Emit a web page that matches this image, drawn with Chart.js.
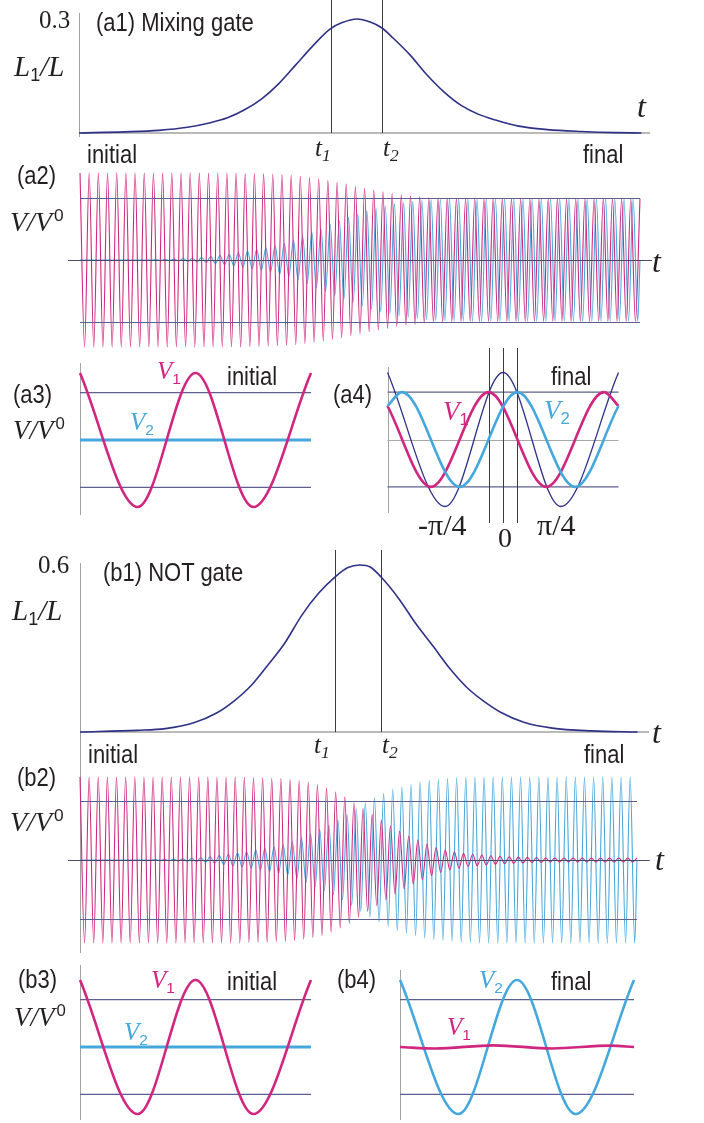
<!DOCTYPE html>
<html>
<head>
<meta charset="utf-8">
<title>Mixing gate and NOT gate</title>
<script src="https://cdn.jsdelivr.net/npm/chart.js@4.4.1/dist/chart.umd.min.js"></script>
<style>
  body { margin: 0; background: #fff; }
  #page { position: relative; width: 704px; height: 1123px; overflow: hidden; }
  #page canvas { position: absolute; }
  .lbl { position: absolute; white-space: nowrap; line-height: 1; color: #231f20; }
  .s { font-family: "Liberation Sans", Arial, sans-serif; transform: scaleX(.88); transform-origin: 0 0; }
  .m { font-family: "Liberation Serif", "Times New Roman", serif; font-style: italic; }
  .r { font-family: "Liberation Serif", "Times New Roman", serif; }
  .sb { font-family: "Liberation Sans", Arial, sans-serif; font-style: normal; font-size: .62em; position: relative; top: .3em; }
  .sbi { font-size: .7em; position: relative; top: .28em; }
  .sp { font-family: "Liberation Sans", Arial, sans-serif; font-style: normal; font-size: .62em; position: relative; top: -.62em; margin-left: 2px; }
</style>
</head>
<body>
<div id="page"></div>
<script>
// (a1) mixing gate pulse, L1/L against t (t axis runs 0..100)
const a1T = [0, 8, 14, 19, 23, 26, 29, 32, 35, 38, 41, 44, 46, 48.7, 51, 53, 55, 58, 61, 64, 67, 70, 73, 77, 82, 88, 94, 98.5];
const a1L = [0, 0.003, 0.007, 0.015, 0.027, 0.04, 0.061, 0.09, 0.13, 0.18, 0.23, 0.274, 0.29, 0.3, 0.292, 0.277, 0.25, 0.205, 0.152, 0.107, 0.072, 0.049, 0.034, 0.018, 0.009, 0.004, 0.001, 0];
const a1Times = [44.1, 53.1]; // t1, t2

// (b1) NOT gate pulse
const b1T = [0, 10, 15, 20, 24, 27, 30, 33, 36, 39, 42, 45, 47, 49.2, 51, 53, 56, 59, 62, 65, 68, 71, 74, 78, 83, 90, 98];
const b1L = [0, 0.006, 0.012, 0.033, 0.068, 0.11, 0.165, 0.24, 0.32, 0.42, 0.5, 0.56, 0.59, 0.6, 0.593, 0.555, 0.48, 0.39, 0.31, 0.228, 0.16, 0.11, 0.07, 0.035, 0.014, 0.004, 0];
const b1Times = [44.8, 52.9];

// (a2) amplitude of each of the 61 voltage cycles
const a2V1Amp = [1, 1, 1, 1, 1, 1, 1, 1, 1, 1, 1, 1, 1, 1, 1, 1, 1, 1,
  0.995, 0.993, 0.99, 0.986, 0.982, 0.973, 0.963, 0.947, 0.933, 0.912, 0.893, 0.872,
  0.848, 0.825, 0.804, 0.785, 0.764, 0.75, 0.738, 0.726, 0.719, 0.714, 0.711, 0.709,
  0.707, 0.707, 0.707, 0.707, 0.707, 0.707, 0.707, 0.707, 0.707, 0.707,
  0.707, 0.707, 0.707, 0.707, 0.707, 0.707, 0.707, 0.707, 0.707];
const a2V2Amp = [0, 0, 0, 0, 0, 0, 0, 0,
  0.005, 0.007, 0.01, 0.014, 0.02, 0.028, 0.04, 0.052, 0.066, 0.083, 0.1, 0.12,
  0.14, 0.165, 0.19, 0.23, 0.27, 0.32, 0.36, 0.41, 0.45, 0.49, 0.53, 0.565,
  0.595, 0.62, 0.645, 0.66, 0.675, 0.688, 0.695, 0.7, 0.703, 0.705,
  0.707, 0.707, 0.707, 0.707, 0.707, 0.707, 0.707, 0.707, 0.707, 0.707,
  0.707, 0.707, 0.707, 0.707, 0.707, 0.707, 0.707, 0.707, 0.707];

// (b2) amplitude of each cycle
const b2V1Amp = [1, 1, 1, 1, 1, 1, 1, 1, 1, 1, 1, 1, 1, 1, 1, 1, 1, 1,
  0.995, 0.99, 0.99, 0.985, 0.98, 0.97, 0.955, 0.935, 0.91, 0.87, 0.82, 0.76,
  0.69, 0.62, 0.55, 0.48, 0.41, 0.35, 0.29, 0.24, 0.19, 0.15, 0.12, 0.1,
  0.08, 0.07, 0.06, 0.052, 0.045, 0.04, 0.035, 0.032, 0.03,
  0.025, 0.025, 0.025, 0.025, 0.025, 0.025, 0.025, 0.025, 0.025, 0.025];
const b2V2Amp = [0, 0, 0, 0, 0, 0, 0, 0,
  0.005, 0.007, 0.01, 0.014, 0.02, 0.028, 0.04, 0.055, 0.07, 0.085, 0.1, 0.12,
  0.14, 0.16, 0.18, 0.22, 0.27, 0.32, 0.37, 0.42, 0.48, 0.55, 0.62, 0.69,
  0.75, 0.8, 0.85, 0.88, 0.91, 0.94, 0.96, 0.97, 0.98, 0.99, 0.995,
  1, 1, 1, 1, 1, 1, 1, 1, 1, 1, 1, 1, 1, 1, 1, 1, 1, 1];

const refLevel = 0.707; // guide lines at 1/sqrt(2)

// (a3), (b3) initial state, two cycles
const smallX = [0, 0.5, 1, 1.5, 2];
const initV1 = [1, -1, 1, -1, 1];
const initV2 = [0, 0, 0, 0, 0];

// (a4) final state of the mixing gate, phase in degrees
const a4SumX = [-360, -180, 0, 180, 360];
const a4Sum = [1, -1, 1, -1, 1];
const a4V1X = [-360, -225, -45, 135, 315, 360];
const a4V1 = [0.5, -0.707, 0.707, -0.707, 0.707, 0.5];
const a4V2X = [-360, -315, -135, 45, 225, 360];
const a4V2 = [0.5, 0.707, -0.707, 0.707, -0.707, 0.5];
const a4Marks = [-45, 0, 45];

// (b4) final state of the NOT gate
const b4V2 = [1, -1, 1, -1, 1];
const b4V1X = [0, 0.3, 0.8, 1.3, 1.8, 2];
const b4V1 = [0, -0.022, 0.025, -0.022, 0.02, 0];

const MAG = '#d1267f', BLUE = '#45a8dc', NAVY = '#2e3186';
const REF = '#5f5f8e', AXIS = '#a3a3a3', DARK = '#3c3c3c';

const page = document.getElementById('page');
const xy = (xs, ys) => xs.map((x, i) => ({ x: x, y: ys[i] }));

// extrema of a wave, one amplitude per cycle; shift 0.25 = quarter cycle later
function oscillation(amp, shift) {
  const pts = shift ? [{ x: 0, y: 0 }] : [];
  amp.forEach((a, k) => {
    pts.push({ x: k + shift, y: a }, { x: k + shift + 0.5, y: -a });
  });
  pts.push({ x: amp.length, y: shift ? 0 : amp[amp.length - 1] });
  return pts;
}

function seg(x0, y0, x1, y1, color, width, top) {
  return { x0, y0, x1, y1, color, width, top };
}

function guidesFor(lines) {
  const draw = (chart, list) => {
    const { ctx, scales: { x, y } } = chart;
    ctx.save();
    list.forEach(l => {
      let px0 = x.getPixelForValue(l.x0), px1 = x.getPixelForValue(l.x1);
      let py0 = y.getPixelForValue(l.y0), py1 = y.getPixelForValue(l.y1);
      if (l.width <= 1.2) {
        if (l.x0 === l.x1) { px0 = px1 = Math.round(px0) + 0.5; }
        if (l.y0 === l.y1) { py0 = py1 = Math.round(py0) + 0.5; }
      }
      ctx.beginPath();
      ctx.strokeStyle = l.color;
      ctx.lineWidth = l.width;
      ctx.moveTo(px0, py0);
      ctx.lineTo(px1, py1);
      ctx.stroke();
    });
    ctx.restore();
  };
  return {
    id: 'guides',
    beforeDatasetsDraw(chart) { draw(chart, lines.filter(l => !l.top)); },
    afterDatasetsDraw(chart) { draw(chart, lines.filter(l => l.top)); }
  };
}

function line(data, color, width) {
  return {
    data: data,
    borderColor: color,
    borderWidth: width,
    cubicInterpolationMode: 'monotone',
    pointRadius: 0,
    fill: false,
    clip: false
  };
}

function panel(box, xr, yr, datasets, lines) {
  const c = document.createElement('canvas');
  c.width = box.w;
  c.height = box.h;
  c.style.left = box.left + 'px';
  c.style.top = box.top + 'px';
  page.appendChild(c);
  return new Chart(c, {
    type: 'line',
    data: { datasets: datasets },
    options: {
      responsive: false,
      animation: false,
      events: [],
      layout: { padding: box.pad },
      plugins: { legend: { display: false }, tooltip: { enabled: false } },
      scales: {
        x: { type: 'linear', min: xr[0], max: xr[1], display: false },
        y: { type: 'linear', min: yr[0], max: yr[1], display: false }
      }
    },
    plugins: [guidesFor(lines)]
  });
}

// (a1)
panel({ left: 60, top: 0, w: 610, h: 145, pad: { left: 19, right: 20, top: 19, bottom: 12 } },
  [0, 100], [0, 0.3],
  [line(xy(a1T, a1L), NAVY, 1.6)],
  [seg(0, -0.0105, 0, 0.316, AXIS, 1),
   seg(0, 0, 100, 0, AXIS, 1.4),
   ...a1Times.map(t => seg(t, 0, t, 0.35, DARK, 1))]);

// (a2)
panel({ left: 55, top: 160, w: 620, h: 200, pad: { left: 25, right: 35, top: 13, bottom: 13 } },
  [0, 61], [-1, 1],
  [line(oscillation(a2V1Amp, 0), MAG, 1.1), line(oscillation(a2V2Amp, 0.25), BLUE, 1.1)],
  [seg(-1.31, 0, 62.3, 0, '#4b4b66', 1, true),
   seg(0, refLevel, 61, refLevel, REF, 1, true),
   seg(0, -refLevel, 61, -refLevel, REF, 1, true)]);

// (a3)
panel({ left: 70, top: 355, w: 260, h: 170, pad: { left: 10, right: 19, top: 18, bottom: 18 } },
  [0, 2], [-1, 1],
  [line(xy(smallX, initV1), MAG, 2.6), line(xy(smallX, initV2), BLUE, 3)],
  [seg(0, -1.119, 0, 1.149, AXIS, 1),
   seg(0, refLevel, 2, refLevel, REF, 1.4),
   seg(0, -refLevel, 2, -refLevel, REF, 1.4)]);

// (a4)
panel({ left: 378, top: 340, w: 250, h: 190, pad: { left: 9.5, right: 9.5, top: 32.5, bottom: 23.5 } },
  [-360, 360], [-1, 1],
  [line(xy(a4V2X, a4V2), BLUE, 2.6), line(xy(a4V1X, a4V1), MAG, 2.6), line(xy(a4SumX, a4Sum), NAVY, 1.3)],
  [seg(-360, -1.097, -360, 1.082, AXIS, 1),
   seg(-360, 0, 360, 0, '#a8a8a8', 1.2),
   seg(-360, refLevel, 360, refLevel, REF, 1.4),
   seg(-360, -refLevel, 360, -refLevel, REF, 1.4),
   ...a4Marks.map(p => seg(p, -1.246, p, 1.366, DARK, 1))]);

// (b1)
panel({ left: 60, top: 545, w: 610, h: 215, pad: { left: 20, right: 21, top: 20, bottom: 28 } },
  [0, 100], [0, 0.6],
  [line(xy(b1T, b1L), NAVY, 1.6)],
  [seg(0, -0.1006, 0, 0.607, AXIS, 1),
   seg(0, 0, 100, 0, AXIS, 1.4),
   ...b1Times.map(t => seg(t, 0, t, 0.654, DARK, 1))]);

// (b2)
panel({ left: 55, top: 760, w: 620, h: 200, pad: { left: 25, right: 38, top: 17, bottom: 17 } },
  [0, 61], [-1, 1],
  [line(oscillation(b2V1Amp, 0), MAG, 1.1), line(oscillation(b2V2Amp, 0.25), BLUE, 1.1)],
  [seg(0, -1.12, 0, 1.205, AXIS, 1),
   seg(-1.31, 0, 62.4, 0, '#4b4b66', 1, true),
   seg(0, refLevel, 61, refLevel, REF, 1, true),
   seg(0, -refLevel, 61, -refLevel, REF, 1, true)]);

// (b3)
panel({ left: 70, top: 960, w: 260, h: 163, pad: { left: 10, right: 19, top: 20, bottom: 9 } },
  [0, 2], [-1, 1],
  [line(xy(smallX, initV1), MAG, 2.6), line(xy(smallX, initV2), BLUE, 3)],
  [seg(0, -1.09, 0, 1.224, AXIS, 1),
   seg(0, refLevel, 2, refLevel, REF, 1.4),
   seg(0, -refLevel, 2, -refLevel, REF, 1.4)]);

// (b4)
panel({ left: 390, top: 960, w: 260, h: 163, pad: { left: 10, right: 16, top: 20, bottom: 9 } },
  [0, 2], [-1, 1],
  [line(xy(b4V1X, b4V1), MAG, 2.6), line(xy(smallX, b4V2), BLUE, 2.6)],
  [seg(0, -1.09, 0, 1.149, AXIS, 1),
   seg(0, refLevel, 2, refLevel, REF, 1.4),
   seg(0, -refLevel, 2, -refLevel, REF, 1.4)]);

// text: [html, class, size, left, baseline, colour]
const V1 = 'V<span class="sb">1</span>', V2 = 'V<span class="sb">2</span>';
const VV0 = 'V/V<span class="sp">0</span>', L1L = 'L<span class="sb">1</span>/L';
const labels = [
  ['0.3', 'r', 25, 39, 28],
  ['(a1) Mixing gate', 's', 25, 96, 31],
  [L1L, 'm', 29, 14, 76],
  ['t', 'm', 32, 637, 117],
  ['t<span class="sbi">1</span>', 'm', 25, 315, 156],
  ['t<span class="sbi">2</span>', 'm', 25, 383, 156],
  ['initial', 's', 25, 87, 163],
  ['final', 's', 25, 583, 163],
  ['(a2)', 's', 25, 17, 184],
  [VV0, 'm', 28, 10, 232],
  ['t', 'm', 32, 652, 272],
  ['(a3)', 's', 25, 13, 403],
  [VV0, 'm', 27, 13, 440],
  [V1, 'm', 25, 157, 379, MAG],
  ['initial', 's', 25, 227, 385],
  [V2, 'm', 25, 130, 430, BLUE],
  ['(a4)', 's', 25, 333, 403],
  ['final', 's', 25, 551, 385],
  [V1, 'm', 27, 443, 421, MAG],
  [V2, 'm', 27, 544, 420, BLUE],
  ['-π/4', 'r', 30, 418, 535],
  ['0', 'r', 28, 498, 548],
  ['π/4', 'r', 30, 537, 535],
  ['0.6', 'r', 25, 38, 573],
  ['(b1) NOT gate', 's', 25, 103, 581],
  [L1L, 'm', 29, 12, 620],
  ['t', 'm', 32, 652, 743],
  ['t<span class="sbi">1</span>', 'm', 25, 314, 753],
  ['t<span class="sbi">2</span>', 'm', 25, 382, 753],
  ['initial', 's', 25, 88, 763],
  ['final', 's', 25, 584, 763],
  ['(b2)', 's', 25, 17, 786],
  [VV0, 'm', 28, 10, 832],
  ['t', 'm', 32, 655, 870],
  ['(b3)', 's', 25, 18, 988],
  [VV0, 'm', 27, 14, 1027],
  [V1, 'm', 25, 151, 988, MAG],
  ['initial', 's', 25, 227, 990],
  [V2, 'm', 25, 124, 1040, BLUE],
  ['(b4)', 's', 25, 337, 988],
  [V2, 'm', 25, 479, 988, BLUE],
  ['final', 's', 25, 551, 990],
  [V1, 'm', 25, 447, 1035, MAG]
];

labels.forEach(([html, cls, size, left, base, color]) => {
  const d = document.createElement('div');
  d.className = 'lbl ' + cls;
  d.innerHTML = html;
  d.style.fontSize = size + 'px';
  d.style.left = left + 'px';
  d.style.top = (base - 0.84 * size) + 'px';
  if (color) d.style.color = color;
  page.appendChild(d);
});
</script>
</body>
</html>
